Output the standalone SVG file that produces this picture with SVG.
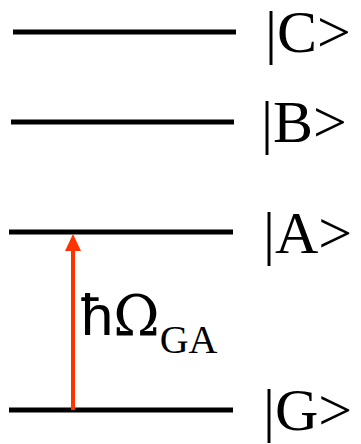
<svg xmlns="http://www.w3.org/2000/svg" width="361" height="444" viewBox="0 0 361 444">
<style>
.lvl{stroke:#000;stroke-width:5}
.ket{font-family:'Liberation Serif','Times New Roman',serif;font-size:60px;fill:#000}
.arrow{stroke:#ff3300;stroke-width:4}
.head{fill:#ff3300}
.lbl{font-family:'Liberation Sans',Arial,sans-serif;font-size:58px;fill:#000}
.ser{font-family:'Liberation Serif','Times New Roman',serif}
.om{font-family:'DejaVu Serif','Liberation Serif',serif}
</style>
<rect width="361" height="444" fill="#fff"/>
<g id="levelC"><line class="lvl" x1="13" y1="32" x2="236" y2="32"/><text class="ket" x="265" y="52">|C&gt;</text></g>
<g id="levelB"><line class="lvl" x1="11" y1="122" x2="234" y2="122"/><text class="ket" x="261" y="142">|B&gt;</text></g>
<g id="levelA"><line class="lvl" x1="9" y1="232" x2="233" y2="232"/><text class="ket" x="263" y="253">|A&gt;</text></g>
<g id="levelG"><line class="lvl" x1="9" y1="410" x2="233" y2="410"/><text class="ket" x="263" y="430">|G&gt;</text></g>
<g id="connectors">
<line class="arrow" x1="73" y1="410" x2="73" y2="248"/>
<path class="head" d="M73,234 L81,251 L65,251 Z"/>
<text class="lbl" x="81" y="335">ħ<tspan class="om" font-size="56">Ω</tspan><tspan class="ser" font-size="40" dy="18">GA</tspan></text>
</g>
</svg>
